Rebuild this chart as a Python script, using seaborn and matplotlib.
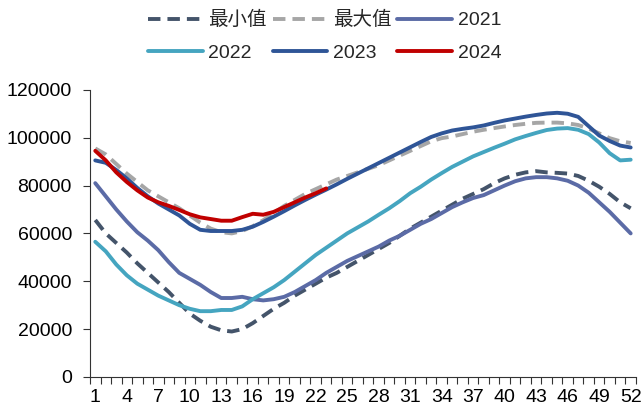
import numpy as np
import pandas as pd
import seaborn as sns
import matplotlib
matplotlib.use('Agg')
import matplotlib.pyplot as plt
from matplotlib.ticker import MultipleLocator, FixedLocator

weeks = list(range(1, 53))

min_vals = [65600, 60000, 56000, 52000, 47500, 43500, 39500, 35500, 31000, 26500,
            23500, 21000, 19500, 19000, 20000, 22500, 25500, 28500, 31000, 34000,
            36500, 39000, 41500, 43500, 46000, 48500, 51000, 53500, 56000, 59000,
            62000, 64500, 67000, 69500, 72000, 74500, 76500, 78500, 81000, 83000,
            84500, 85500, 86000, 85500, 85300, 85000, 84000, 82000, 79500, 76500,
            73000, 70500]
max_vals = [95500, 93000, 89000, 85000, 81500, 78000, 75500, 73000, 70500, 67500,
            64500, 62000, 60500, 60000, 61000, 63000, 65500, 68500, 71500, 74000,
            76500, 78500, 80500, 82500, 84000, 85500, 87000, 88500, 90500, 92500,
            94500, 96500, 98500, 99800, 100500, 101500, 102500, 103300, 104000, 104700,
            105300, 105800, 106200, 106300, 106300, 106000, 105300, 103800, 101800, 99800,
            98500, 97800]
y2021 = [81000, 75500, 70000, 65000, 60500, 57000, 53000, 48000, 43500, 41000,
         38500, 35500, 33000, 33000, 33500, 32500, 32000, 32500, 33500, 35500,
         38000, 40500, 43500, 46000, 48500, 50500, 52500, 54500, 57000, 59000,
         61500, 64000, 66000, 68500, 71000, 73000, 74800, 76000, 78000, 80000,
         81800, 83000, 83500, 83500, 83000, 82000, 80000, 77000, 73000, 69000,
         64500, 60000]
y2022 = [56500, 52500, 47000, 42500, 39000, 36500, 34000, 32000, 30000, 28500,
         27500, 27500, 28000, 28000, 29500, 32500, 35000, 37500, 40500, 44000,
         47500, 51000, 54000, 57000, 60000, 62500, 65000, 67800, 70500, 73500,
         76800, 79500, 82500, 85200, 87800, 90000, 92200, 94000, 95800, 97500,
         99300, 100700, 102000, 103200, 103800, 104000, 103300, 101500, 98000, 93500,
         90500, 90800]
y2023 = [90500, 89500, 86500, 83000, 79000, 75500, 72500, 70000, 67500, 64000,
         61500, 61000, 61000, 61000, 61500, 62800, 64800, 67000, 69300, 71700,
         74000, 76200, 78300, 80500, 82800, 85000, 87200, 89400, 91600, 93800,
         96000, 98200, 100300, 101800, 103000, 103700, 104300, 105100, 106200, 107200,
         108000, 108800, 109500, 110100, 110400, 110000, 108700, 104800, 100900, 98600,
         96700, 95900]
y2024 = [94500, 90500, 85500, 81500, 78000, 75000, 73000, 71500, 69800, 68000,
         66700, 66000, 65300, 65300, 66800, 68200, 67800, 69000, 71000, 73000,
         75000, 76800, 78800]

sns.set_style('white')
plt.rcParams['font.family'] = ['Liberation Sans', 'Noto Sans CJK SC', 'DejaVu Sans']
plt.rcParams['axes.unicode_minus'] = False

fig = plt.figure(figsize=(6.43, 4.12), dpi=100)
ax = fig.add_axes([0.14, 0.085, 0.849, 0.697])

series = [
    ('最小值', min_vals, '#44546A', (3.2, 1.8)),
    ('最大值', max_vals, '#A6A6A6', (3.2, 1.8)),
    ('2021', y2021, '#5B6BA6', None),
    ('2022', y2022, '#45A5C0', None),
    ('2023', y2023, '#2F5597', None),
    ('2024', y2024, '#C00000', None),
]
handles = {}
for name, vals, color, dash in series:
    df = pd.DataFrame({'week': weeks[:len(vals)], 'value': vals})
    sns.lineplot(data=df, x='week', y='value', ax=ax, color=color, linewidth=2.8,
                 label=name, legend=False)
    line = ax.lines[-1]
    line.set_solid_capstyle('round')
    if dash is not None:
        line.set_dashes(dash)
        line.set_dash_capstyle('butt')
    handles[name] = line

ax.set_xlim(0.5, 52.5)
ax.set_ylim(0, 120000)
ax.set_xlabel('')
ax.set_ylabel('')
ax.xaxis.set_major_locator(FixedLocator(list(range(1, 53, 3))))
ax.xaxis.set_minor_locator(FixedLocator(np.arange(0.5, 53, 1)))
ax.yaxis.set_major_locator(MultipleLocator(20000))
ax.tick_params(axis='x', which='major', length=0, labelsize=14, pad=9, colors='black')
ax.tick_params(axis='x', which='minor', length=5, width=0.8, direction='out', bottom=True, color='#333333')
ax.tick_params(axis='y', which='major', length=5, width=0.8, direction='out', left=True,
               labelsize=14, pad=8, color='#333333', labelcolor='black')
for s in ['top', 'right']:
    ax.spines[s].set_visible(False)
for s in ['left', 'bottom']:
    ax.spines[s].set_color('#333333')
    ax.spines[s].set_linewidth(0.8)

order = ['最小值', '2022', '最大值', '2023', '2021', '2024']
fig.legend([handles[k] for k in order], order, loc='upper center',
           bbox_to_anchor=(0.505, 1.015), ncol=3, frameon=False, fontsize=14,
           handlelength=2.8, columnspacing=0.3, handletextpad=0.3, labelspacing=0.75)

fig.savefig('out.png', dpi=100)
